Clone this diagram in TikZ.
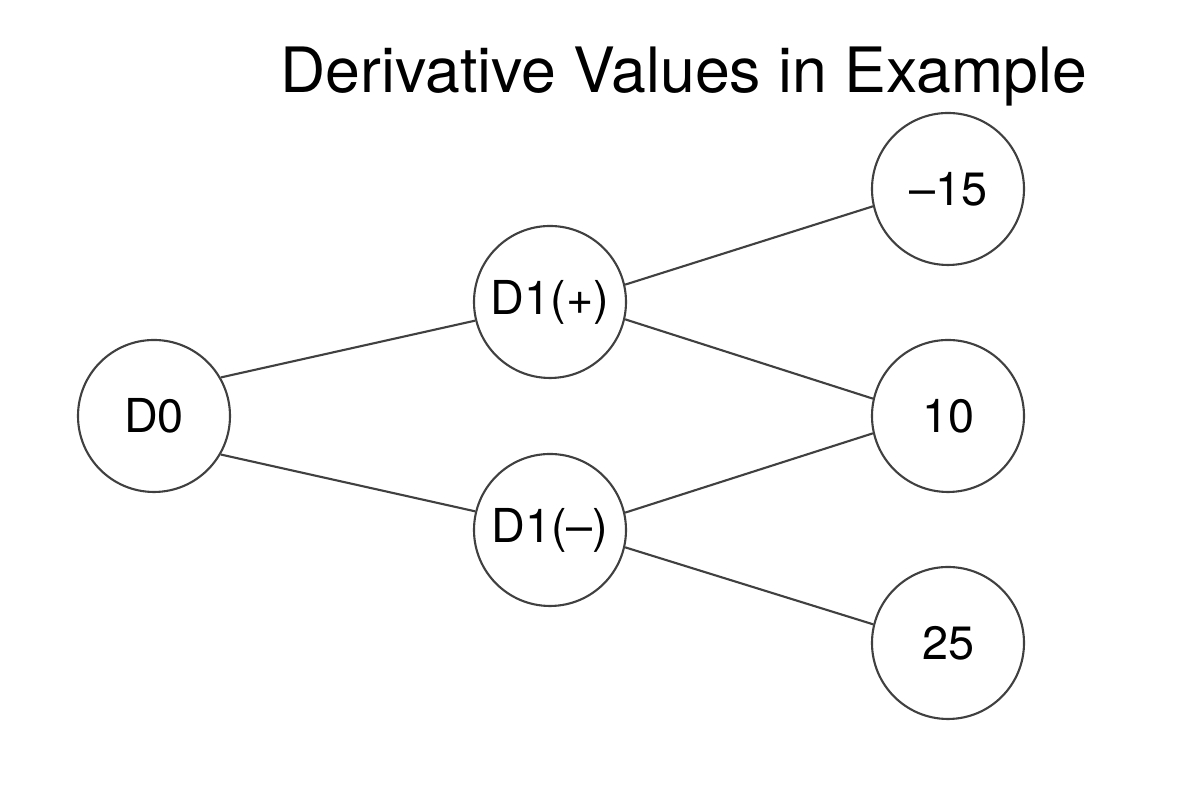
\documentclass[tikz,border=0pt]{standalone}
\usepackage{fontspec}
\setmainfont{TeX Gyre Heros}

\begin{document}
\begin{tikzpicture}[
        val/.style={draw=black!75,line width=0.6pt,circle,minimum size=1.52cm,inner sep=0pt,font=\fontsize{13.3}{15}\selectfont},
        edge/.style={draw=black!75,line width=0.6pt}
    ]
            \useasboundingbox (0,0) rectangle (11.86,7.86);

            \node[anchor=base,font=\fontsize{17.8}{20}\selectfont] (title) at (6.84,6.93) {Derivative Values in Example};

            \node[val] (d0) at (1.54,3.70) {D0};
            \node[val] (d1p) at (5.50,4.84) {D1(+)};
            \node[val] (d1m) at (5.50,2.56) {D1(–)};
            \node[val] (v15) at (9.48,5.97) {–15};
            \node[val] (v10) at (9.48,3.70) {10};
            \node[val] (v25) at (9.48,1.43) {25};

            \draw[edge] (d0.30) -- (d1p.194);
            \draw[edge] (d0.-30) -- (d1m.166);
            \draw[edge] (d1p.13) -- (v15.193);
            \draw[edge] (d1p.-13) -- (v10.167);
            \draw[edge] (d1m.13) -- (v10.193);
            \draw[edge] (d1m.-13) -- (v25.166);
        \end{tikzpicture}
\end{document}
